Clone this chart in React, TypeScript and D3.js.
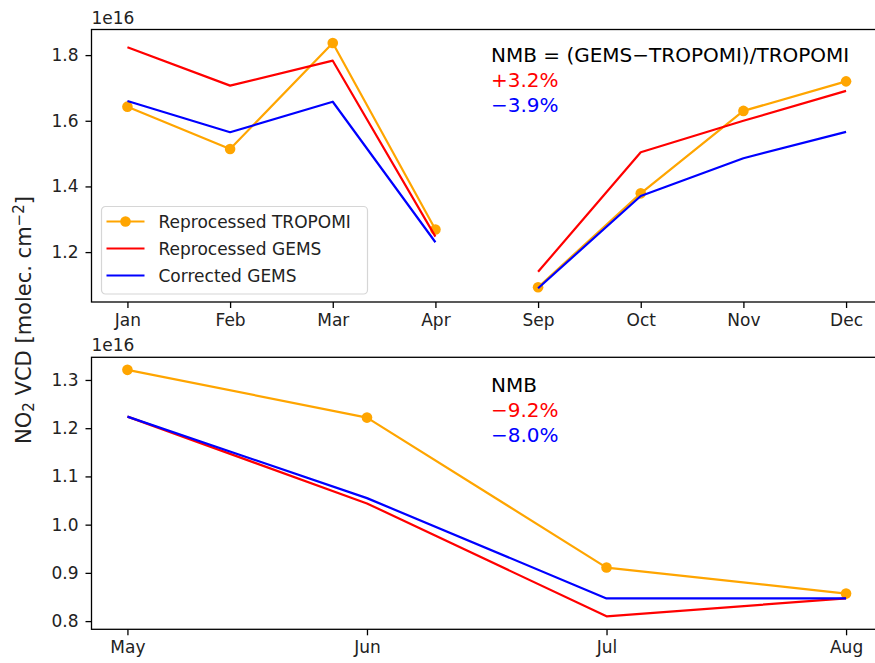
import React, { useRef, useEffect } from "react";
import * as d3 from "d3";

// top panel: cold season months (gap between Apr and Sep)
const topMonths = ["Jan", "Feb", "Mar", "Apr", "Sep", "Oct", "Nov", "Dec"];
const topTropomi = [1.643, 1.514, 1.837, 1.269, 1.093, 1.379, 1.630, 1.720];
const topGems = [1.824, 1.707, 1.783, 1.247, 1.140, 1.504, 1.600, 1.691];
const topCorrected = [1.660, 1.565, 1.658, 1.230, 1.090, 1.371, 1.486, 1.566];
const topSegments = [["Jan", "Feb", "Mar", "Apr"], ["Sep", "Oct", "Nov", "Dec"]];
const topTicks = [1.2, 1.4, 1.6, 1.8];
const topNmb = ["+3.2%", "\u22123.9%"];

// bottom panel: warm season months
const botMonths = ["May", "Jun", "Jul", "Aug"];
const botTropomi = [1.321, 1.222, 0.911, 0.857];
const botGems = [1.224, 1.044, 0.810, 0.847];
const botCorrected = [1.224, 1.055, 0.847, 0.847];
const botTicks = [0.8, 0.9, 1.0, 1.1, 1.2, 1.3];
const botNmb = ["\u22129.2%", "\u22128.0%"];

const seriesNames = ["Reprocessed TROPOMI", "Reprocessed GEMS", "Corrected GEMS"];
const seriesColors = ["orange", "red", "blue"];

const W = 875;
const H = 663;
const FONT = "DejaVu Sans, sans-serif";
const TXT = "#222";

const App: React.FC = () => {
  const svgRef = useRef<SVGSVGElement | null>(null);

  useEffect(() => {
    const svg = d3.select(svgRef.current);
    svg.selectAll("*").remove();

    const left = 91.5;
    const right = 882; // right spine falls just outside the picture

    const drawPanel = (
      top: number,
      bottom: number,
      months: string[],
      series: number[][],
      segments: string[][],
      yDomain: [number, number],
      ticks: number[],
      nmbTitle: string,
      nmb: string[],
      nmbY: number,
      withLegend: boolean
    ) => {
      const g = svg.append("g");
      // 5% margin on the categorical index axis, like matplotlib
      const n = months.length - 1;
      const xs = d3.scaleLinear().domain([-0.05 * n, n * 1.05]).range([left, right]);
      const xOf = (m: string) => xs(months.indexOf(m));
      const y = d3.scaleLinear().domain(yDomain.map(v => v * 1e16)).range([bottom, top]);

      const clipId = `clip-${Math.round(top)}`;
      svg.append("clipPath").attr("id", clipId)
        .append("rect").attr("x", left).attr("y", top).attr("width", right - left).attr("height", bottom - top);

      const plot = g.append("g").attr("clip-path", `url(#${clipId})`);

      series.forEach((vals, si) => {
        const color = seriesColors[si];
        const l = d3.line<string>()
          .x(m => xOf(m))
          .y(m => y(vals[months.indexOf(m)] * 1e16));
        segments.forEach(seg => {
          plot.append("path")
            .attr("d", l(seg) as string)
            .attr("fill", "none")
            .attr("stroke", color)
            .attr("stroke-width", 2.2)
            .attr("stroke-linejoin", "round");
        });
        if (si === 0) {
          plot.selectAll(null)
            .data(months)
            .join("circle")
            .attr("cx", m => xOf(m))
            .attr("cy", m => y(vals[months.indexOf(m)] * 1e16))
            .attr("r", 5.3)
            .attr("fill", color);
        }
      });

      // axes
      const xAxis = d3.axisBottom(xs)
        .tickValues(d3.range(months.length))
        .tickFormat(i => months[i as number])
        .tickSize(6)
        .tickPadding(6);
      const ax = g.append("g").attr("transform", `translate(0,${bottom})`).call(xAxis);
      const yAxis = d3.axisLeft(y)
        .tickValues(ticks.map(t => t * 1e16))
        .tickFormat(v => ((v as number) / 1e16).toFixed(1))
        .tickSize(6)
        .tickPadding(7);
      const ay = g.append("g").attr("transform", `translate(${left},0)`).call(yAxis);
      [ax, ay].forEach(a => {
        a.select(".domain").remove();
        a.selectAll("line").attr("stroke", "#000").attr("stroke-width", 1.3);
        a.selectAll("text").attr("fill", TXT).style("font-family", FONT).style("font-size", "17px");
      });

      g.append("rect")
        .attr("x", left).attr("y", top)
        .attr("width", right - left).attr("height", bottom - top)
        .attr("fill", "none").attr("stroke", "#000").attr("stroke-width", 1.3);

      // offset text
      g.append("text")
        .attr("x", left).attr("y", top - 6)
        .attr("fill", TXT)
        .style("font-family", FONT).style("font-size", "17px")
        .text("1e16");

      // NMB annotation
      const nt = g.append("g").style("font-family", FONT).style("font-size", "20px");
      nt.append("text").attr("x", 491).attr("y", nmbY).attr("fill", "#000").text(nmbTitle);
      nmb.forEach((s, i) => {
        nt.append("text").attr("x", 491).attr("y", nmbY + 25.3 * (i + 1))
          .attr("fill", seriesColors[i + 1]).text(s);
      });

      if (withLegend) {
        const lg = g.append("g").attr("transform", "translate(101.5,206.5)");
        lg.append("rect")
          .attr("width", 266).attr("height", 87.5)
          .attr("rx", 4)
          .attr("fill", "white").attr("fill-opacity", 0.8)
          .attr("stroke", "#d6d6d6").attr("stroke-width", 1.2);
        seriesNames.forEach((name, i) => {
          const row = lg.append("g").attr("transform", `translate(0,${15 + i * 27})`);
          row.append("line")
            .attr("x1", 5).attr("x2", 43)
            .attr("stroke", seriesColors[i]).attr("stroke-width", 2.2);
          if (i === 0) {
            row.append("circle").attr("cx", 24).attr("r", 5.3).attr("fill", seriesColors[i]);
          }
          row.append("text")
            .attr("x", 57).attr("y", 6)
            .attr("fill", TXT)
            .style("font-family", FONT).style("font-size", "17px")
            .text(name);
        });
      }
    };

    drawPanel(29.5, 302, topMonths, [topTropomi, topGems, topCorrected], topSegments,
      [1.048, 1.878], topTicks, "NMB = (GEMS\u2212TROPOMI)/TROPOMI", topNmb, 61.5, true);
    drawPanel(357.3, 629.3, botMonths, [botTropomi, botGems, botCorrected], [botMonths],
      [0.783, 1.347], botTicks, "NMB", botNmb, 391.5, false);

    // shared y label
    const yl = svg.append("text")
      .attr("transform", "translate(31,320) rotate(-90)")
      .attr("text-anchor", "middle")
      .attr("fill", TXT)
      .style("font-family", FONT)
      .style("font-size", "21px");
    yl.append("tspan").text("NO");
    yl.append("tspan").attr("baseline-shift", "-22%").style("font-size", "15px").text("2");
    yl.append("tspan").text(" VCD [molec. cm");
    yl.append("tspan").attr("baseline-shift", "45%").style("font-size", "15px").text("\u22122");
    yl.append("tspan").text("]");
  }, []);

  return (
    <div style={{ position: "absolute", left: 0, top: 0, width: W, height: H, background: "white" }}>
      <svg ref={svgRef} width={W} height={H} style={{ display: "block" }} />
    </div>
  );
};

export default App;
